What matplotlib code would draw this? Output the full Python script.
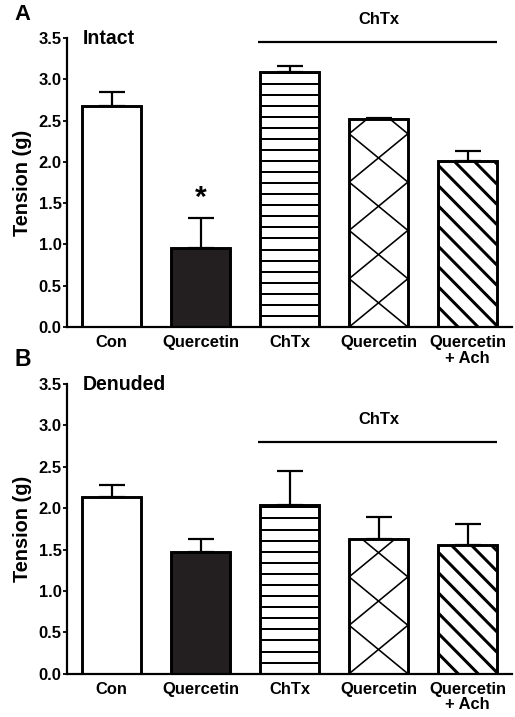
import numpy as np
import matplotlib
matplotlib.use("Agg")
import matplotlib.pyplot as plt
from matplotlib.collections import LineCollection

# ---------------- data ----------------
categories = ["Con", "Quercetin", "ChTx", "Quercetin", "Quercetin\n+ Ach"]
intact_vals = [2.68, 0.96, 3.09, 2.52, 2.01]
intact_err = [0.17, 0.36, 0.07, 0.01, 0.12]
denuded_vals = [2.13, 1.47, 2.04, 1.63, 1.56]
denuded_err = [0.15, 0.16, 0.41, 0.26, 0.25]
panel_titles = ["Intact", "Denuded"]
panel_letters = ["A", "B"]
yticks = [0.0, 0.5, 1.0, 1.5, 2.0, 2.5, 3.0, 3.5]
ylabel = "Tension (g)"
bracket_label = "ChTx"
bracket_y = [3.45, 2.80]
signif = [["", "*", "", "", ""], ["", "", "", "", ""]]

# ---------------- style ----------------
DPI = 130
W, H = 515, 717
plt.rcParams["font.family"] = ["Liberation Sans", "DejaVu Sans"]
plt.rcParams["font.weight"] = "bold"

fills = ["white", "#231f20", "white", "white", "white"]
hatches = [None, None, "h", "cross", "diag"]
BW = 0.66


def px2pt(p):
    return p * 72.0 / DPI


def add_hatch(ax, rect, kind):
    x0 = rect.get_x()
    w = rect.get_width()
    h = rect.get_height()
    segs = []
    if kind == "h":
        step = 0.134
        for y in np.arange(step, h, step):
            segs.append([(x0, y), (x0 + w, y)])
        lw = px2pt(2.0)
    elif kind == "diag":
        step = 0.245
        drop = 0.72
        for k in range(-1, int((h + drop) / step) + 3):
            yl = k * step
            segs.append([(x0, yl), (x0 + w, yl - drop)])
        lw = px2pt(3.0)
    elif kind == "cross":
        step = 0.585
        for k in range(-2, int(h / step) + 3):
            yl = k * step
            segs.append([(x0, yl), (x0 + w, yl + step)])
            segs.append([(x0, yl), (x0 + w, yl - step)])
        lw = px2pt(1.6)
    else:
        return
    lc = LineCollection(segs, colors="black", linewidths=lw, zorder=2.2)
    ax.add_collection(lc, autolim=False)
    lc.set_clip_path(rect)


fig = plt.figure(figsize=(W / DPI, H / DPI), dpi=DPI)

ax_left = 67 / W
ax_w = (512 - 67) / W
panels = [
    (1 - 327 / H, (327 - 38) / H, intact_vals, intact_err),
    (1 - 673.7 / H, (673.7 - 384) / H, denuded_vals, denuded_err),
]

x = np.arange(len(categories))
for i, (bot, hgt, vals, errs) in enumerate(panels):
    ax = fig.add_axes([ax_left, bot, ax_w, hgt])
    bars = ax.bar(x, vals, width=BW, color=fills, edgecolor="black",
                  linewidth=px2pt(2.6), zorder=2)
    for b, hk in zip(bars, hatches):
        if hk:
            add_hatch(ax, b, hk)
    # redraw edges on top of hatch
    ax.bar(x, vals, width=BW, color="none", edgecolor="black",
           linewidth=px2pt(2.6), zorder=2.5)
    ax.errorbar(x, vals, yerr=[np.zeros(len(vals)), errs], fmt="none",
                ecolor="black", elinewidth=px2pt(2.2), capsize=px2pt(13),
                capthick=px2pt(2.2), zorder=1.5)
    for xi, v, e, s in zip(x, vals, errs, signif[i]):
        if s:
            ax.text(xi, v + e + 0.24, s, ha="center", va="center",
                    fontsize=px2pt(30), fontweight="bold")

    ax.set_xlim(-0.5, len(categories) - 0.5)
    ax.set_ylim(0, 3.5)
    ax.set_yticks(yticks)
    ax.set_yticklabels([f"{t:.1f}" for t in yticks])
    ax.set_xticks(x)
    ax.set_xticklabels(categories, linespacing=1.05)
    ax.tick_params(axis="y", length=px2pt(4.5), width=px2pt(1.8), pad=px2pt(1),
                   labelsize=px2pt(16.5), direction="out")
    ax.tick_params(axis="x", length=0, pad=px2pt(8), labelsize=px2pt(16.5))
    for lab in ax.get_xticklabels() + ax.get_yticklabels():
        lab.set_fontweight("bold")
    for sp in ["top", "right"]:
        ax.spines[sp].set_visible(False)
    for sp in ["left", "bottom"]:
        ax.spines[sp].set_linewidth(px2pt(2.2))
    ax.set_ylabel(ylabel, fontsize=px2pt(20), fontweight="bold", labelpad=px2pt(6))

    # bracket
    ax.plot([2 - BW / 2 - 0.02, 4 + BW / 2], [bracket_y[i]] * 2, color="black",
            lw=px2pt(2.2), clip_on=False, solid_capstyle="butt")
    ax.text(3, bracket_y[i] + 0.27, bracket_label, ha="center", va="center",
            fontsize=px2pt(16.5), fontweight="bold", clip_on=False)
    ax.text(-0.5 + 16 / 89, 3.5, panel_titles[i], ha="left", va="center",
            fontsize=px2pt(19.5), fontweight="bold", clip_on=False)
    ax.patch.set_visible(False)

fig.text(22 / W, 1 - 14.5 / H, panel_letters[0], ha="center", va="center",
         fontsize=px2pt(22), fontweight="bold")
fig.text(23 / W, 1 - 359 / H, panel_letters[1], ha="center", va="center",
         fontsize=px2pt(23), fontweight="bold")

fig.savefig("out.png", dpi=DPI, facecolor="white")
